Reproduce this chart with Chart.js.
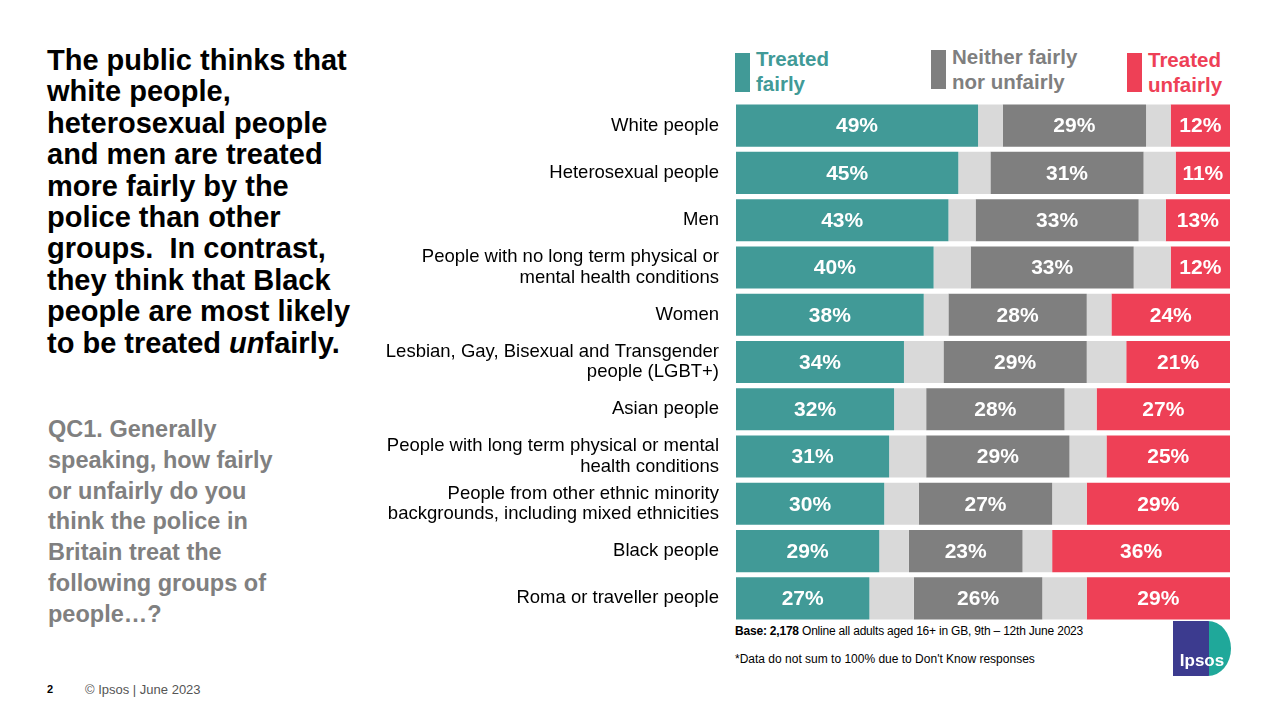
<!DOCTYPE html>
<html>
<head>
<meta charset="utf-8">
<script src="https://cdn.jsdelivr.net/npm/chart.js@4"></script>
<style>
body{margin:0;width:1280px;height:720px;background:#fff;font-family:"Liberation Sans",Arial,sans-serif;position:relative;overflow:hidden}
.title{position:absolute;left:47px;top:45px;font-size:29px;font-weight:bold;line-height:31.4px;color:#000;white-space:nowrap}
.question{position:absolute;left:48px;top:414px;font-size:23.5px;font-weight:bold;line-height:30.8px;color:#808080;white-space:nowrap}
.leg{position:absolute;font-size:20.5px;font-weight:bold;line-height:25px;white-space:nowrap}
.leg i{position:absolute;left:-21px;width:15px;height:39px}
.foot{position:absolute;font-size:12px;color:#000;white-space:nowrap}
#wrap{position:absolute;left:370px;top:102px;width:860px;height:520px}
.logo{position:absolute;left:1173px;top:621px;width:58px;height:55px;background:linear-gradient(90deg,#3c3b8f 0,#3c3b8f 62%,#1fa89a 62%);border-radius:0 40% 40% 0/0 50% 50% 0;color:#fff;font-weight:bold;font-size:17px;text-align:center;line-height:80px}
</style>
</head>
<body>
<div class="title">The public thinks that<br>white people,<br>heterosexual people<br>and men are treated<br>more fairly by the<br>police than other<br>groups.&nbsp; In contrast,<br>they think that Black<br>people are most likely<br>to be treated <i>un</i>fairly.</div>
<div class="question">QC1. Generally<br>speaking, how fairly<br>or unfairly do you<br>think the police in<br>Britain treat the<br>following groups of<br>people…?</div>

<div class="leg" style="left:756px;top:46px;color:#419a97"><i style="background:#419a97;top:7px"></i>Treated<br>fairly</div>
<div class="leg" style="left:952px;top:44px;color:#7f7f7f"><i style="background:#7f7f7f;top:6px"></i>Neither fairly<br>nor unfairly</div>
<div class="leg" style="left:1148px;top:47px;color:#ee4056"><i style="background:#ee4056;top:6px"></i>Treated<br>unfairly</div>

<div id="wrap"><canvas id="c"></canvas></div>

<div class="foot" style="left:735px;top:624px;letter-spacing:-0.2px"><b>Base: 2,178</b> Online all adults aged 16+ in GB, 9th – 12th June 2023</div>
<div class="foot" style="left:735px;top:652px">*Data do not sum to 100% due to Don't Know responses</div>
<div class="foot" style="left:47px;top:683px;font-weight:bold;font-size:11px">2</div>
<div class="foot" style="left:85px;top:682px;color:#555;font-size:13px">© Ipsos | June 2023</div>
<div class="logo">Ipsos</div>

<script>
const groups=[
  "White people",
  "Heterosexual people",
  "Men",
  ["People with no long term physical or","mental health conditions"],
  "Women",
  ["Lesbian, Gay, Bisexual and Transgender","people (LGBT+)"],
  "Asian people",
  ["People with long term physical or mental","health conditions"],
  ["People from other ethnic minority","backgrounds, including mixed ethnicities"],
  "Black people",
  "Roma or traveller people"
];
const fairly=[49,45,43,40,38,34,32,31,30,29,27];
const neither=[29,31,33,33,28,29,28,29,27,23,26];
const unfairly=[12,11,13,12,24,21,27,25,29,36,29];

// don't know share split either side of the middle bar
const dk=fairly.map((v,i)=>(100-v-neither[i]-unfairly[i])/2);

const labelsPlugin={
  id:'segLabels',
  afterDatasetsDraw(chart){
    const ctx=chart.ctx;
    ctx.save();
    ctx.font='bold 21px "Liberation Sans", Arial, sans-serif';
    ctx.fillStyle='#fff';
    ctx.textAlign='center';
    ctx.textBaseline='middle';
    chart.data.datasets.forEach((ds,di)=>{
      if(!ds.showLabel) return;
      chart.getDatasetMeta(di).data.forEach((bar,i)=>{
        ctx.fillText(ds.data[i]+'%',(bar.x+bar.base)/2,bar.y+1);
      });
    });
    ctx.restore();
  }
};

new Chart(document.getElementById('c'),{
  type:'bar',
  data:{
    labels:groups,
    datasets:[
      {label:'Treated fairly',data:fairly,backgroundColor:'#419a97',showLabel:true},
      {label:'dk1',data:dk,backgroundColor:'#d9d9d9'},
      {label:'Neither fairly nor unfairly',data:neither,backgroundColor:'#7f7f7f',showLabel:true},
      {label:'dk2',data:dk,backgroundColor:'#d9d9d9'},
      {label:'Treated unfairly',data:unfairly,backgroundColor:'#ee4056',showLabel:true}
    ]
  },
  options:{
    indexAxis:'y',
    responsive:true,
    maintainAspectRatio:false,
    animation:false,
    layout:{padding:0},
    datasets:{bar:{categoryPercentage:1,barPercentage:0.89,borderWidth:0}},
    plugins:{legend:{display:false},tooltip:{enabled:false}},
    scales:{
      x:{stacked:true,min:0,max:100,display:false},
      y:{
        stacked:true,
        grid:{display:false},
        border:{display:false},
        afterFit(s){s.width=366;s.paddingTop=0;s.paddingBottom=0;},
        ticks:{color:'#000',padding:9,font:{family:'"Liberation Sans", Arial, sans-serif',size:18.5,lineHeight:1.1}}
      }
    }
  },
  plugins:[labelsPlugin]
});
</script>
</body>
</html>
